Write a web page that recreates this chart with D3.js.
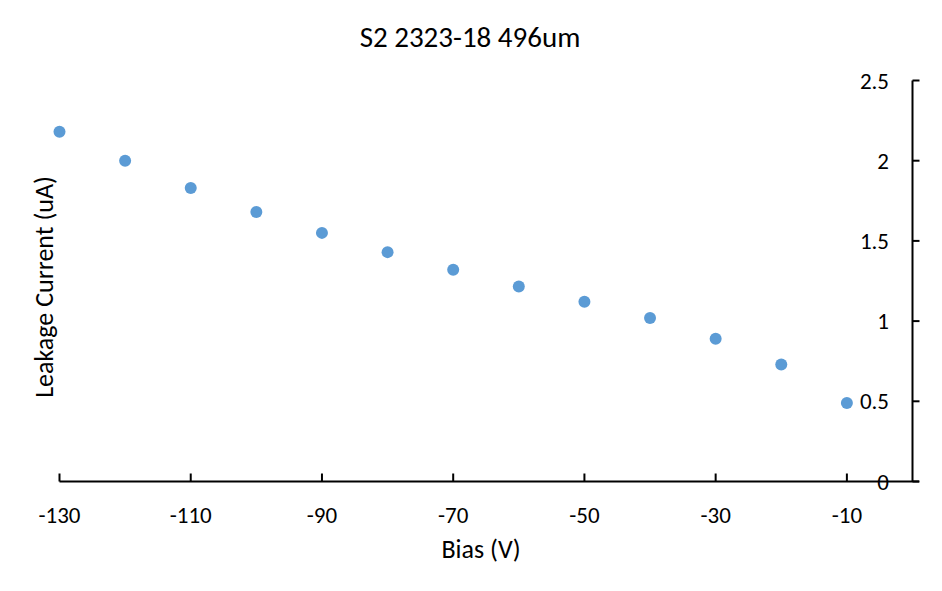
<!DOCTYPE html>
<html>
<head>
<meta charset="utf-8">
<script src="https://cdn.jsdelivr.net/npm/d3@7"></script>
<style>
  body { margin: 0; background: #fff; }
  text { font-family: Carlito, Lato, "Open Sans", sans-serif; fill: #000; }
</style>
</head>
<body>
<script>
var biasV = [-130, -120, -110, -100, -90, -80, -70, -60, -50, -40, -30, -20, -10];
var leakageUA = [2.18, 2.0, 1.83, 1.68, 1.55, 1.43, 1.32, 1.215, 1.12, 1.02, 0.89, 0.73, 0.49];
var xTicks = [-130, -110, -90, -70, -50, -30, -10];
var yTicks = [0, 0.5, 1, 1.5, 2, 2.5];

var W = 942, H = 591;
var svg = d3.select("body").append("svg")
  .attr("width", W).attr("height", H);

var x = d3.scaleLinear().domain([-130, 0]).range([59.5, 912.5]);
var y = d3.scaleLinear().domain([0, 2.5]).range([481.5, 80.5]);

// x axis: line plus inward ticks
svg.append("line")
  .attr("x1", x(-130)).attr("x2", 919).attr("y1", y(0)).attr("y2", y(0))
  .attr("stroke", "#000").attr("stroke-width", 2);
svg.selectAll("line.xt").data(xTicks).enter().append("line")
  .attr("class", "xt")
  .attr("x1", function(d) { return x(d); }).attr("x2", function(d) { return x(d); })
  .attr("y1", y(0) - 8).attr("y2", y(0))
  .attr("stroke", "#000").attr("stroke-width", 2);
svg.selectAll("text.xl").data(xTicks).enter().append("text")
  .attr("class", "xl")
  .attr("x", function(d) { return x(d); }).attr("y", 523)
  .attr("text-anchor", "middle").attr("font-size", 23)
  .text(function(d) { return d; });

// y axis at x = 0 (right side)
svg.append("line")
  .attr("x1", x(0)).attr("x2", x(0)).attr("y1", y(2.5)).attr("y2", y(0))
  .attr("stroke", "#000").attr("stroke-width", 2);
svg.selectAll("line.yt").data(yTicks).enter().append("line")
  .attr("class", "yt")
  .attr("x1", x(0)).attr("x2", x(0) + 7)
  .attr("y1", function(d) { return y(d); }).attr("y2", function(d) { return y(d); })
  .attr("stroke", "#000").attr("stroke-width", 2);
svg.selectAll("text.yl").data(yTicks).enter().append("text")
  .attr("class", "yl")
  .attr("x", 889).attr("y", function(d) { return y(d); })
  .attr("dy", "0.35em")
  .attr("text-anchor", "end").attr("font-size", 23)
  .text(function(d) { return d; });

// points
svg.selectAll("circle.pt").data(biasV).enter().append("circle")
  .attr("class", "pt")
  .attr("cx", function(d) { return x(d); })
  .attr("cy", function(d, i) { return y(leakageUA[i]); })
  .attr("r", 6)
  .attr("fill", "#5B9BD5");

// titles
svg.append("text")
  .attr("x", 470).attr("y", 47)
  .attr("text-anchor", "middle").attr("font-size", 29)
  .text("S2 2323-18 496um");
svg.append("text")
  .attr("x", 481).attr("y", 558)
  .attr("text-anchor", "middle").attr("font-size", 26)
  .text("Bias (V)");
svg.append("text")
  .attr("transform", "translate(53,287) rotate(-90)")
  .attr("text-anchor", "middle").attr("font-size", 26)
  .text("Leakage Current (uA)");
</script>
</body>
</html>
